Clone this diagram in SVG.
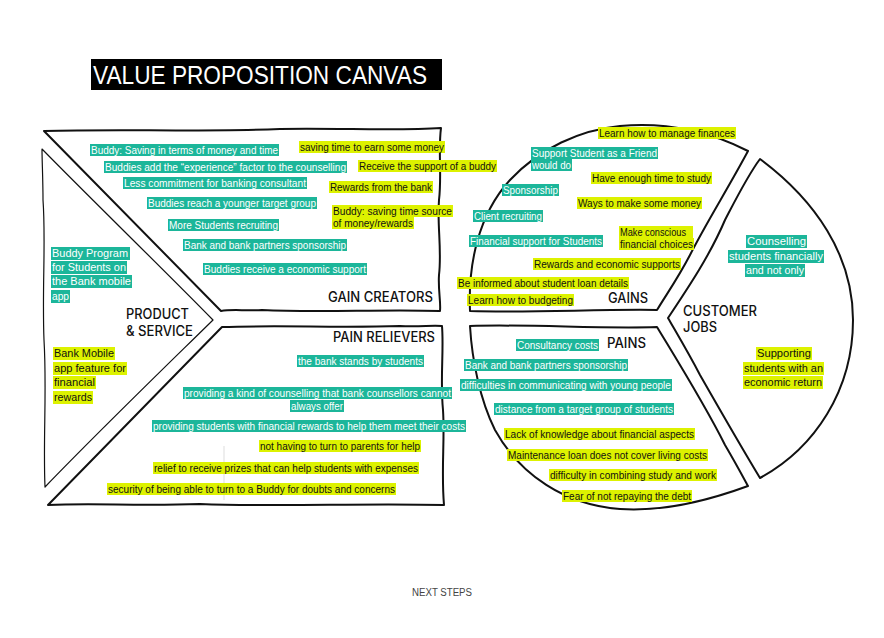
<svg xmlns="http://www.w3.org/2000/svg" width="884" height="638" viewBox="0 0 884 638">
<style>
.bg{fill:#ffffff}
.shape{fill:none;stroke:#111;stroke-width:2;stroke-linejoin:round;stroke-linecap:round}
.thin{fill:none;stroke:#111;stroke-width:1.2;stroke-linejoin:round}
.t{fill:#1cb69a}
.y{fill:#ddf200}
.lt{font-family:"Liberation Sans",Arial,sans-serif;font-size:10px;fill:#ffffff}
.ly{font-family:"Liberation Sans",Arial,sans-serif;font-size:10px;fill:#111}
.big{font-size:11px}
.h{font-family:Inter,"Liberation Sans",Arial,sans-serif;font-size:14px;font-weight:500;fill:#111}
.title{font-family:"Liberation Sans",Arial,sans-serif;font-size:26px;fill:#ffffff}
.next{font-family:"Liberation Sans",Arial,sans-serif;font-size:10px;fill:#444}
</style>
<rect class="bg" x="0" y="0" width="884" height="638"/>

<g id="title">
<rect x="91" y="59" width="351" height="31" fill="#000"/>
<text class="title" x="93" y="84" textLength="334" lengthAdjust="spacingAndGlyphs">VALUE PROPOSITION CANVAS</text>
</g>

<g id="outlines">
<path id="gain-creators-shape" class="shape" d="M44,131 C120,129 200,132 280,129 C340,128 400,131 441,128 C438,150 442,175 439,200 C437,225 442,250 439,275 C438,290 441,302 440,311 C380,309 320,313 262,310 C245,311 232,309 221,311 L44,131 Z"/>
<path id="pain-relievers-shape" class="shape" d="M222,327 C280,325 340,328 400,326 C420,327 432,325 442,326 C444,350 440,380 443,410 C445,440 441,470 444,505 C360,503 280,507 200,504 C140,506 90,503 48,505 L222,327 Z"/>
<path id="product-shape" class="thin" d="M42,149 C90,198 160,266 213,320 C160,372 100,430 45,487 C43,440 47,390 44,340 C42,290 46,240 43,200 C43,180 42,160 42,149 Z"/>
<path id="gains-shape" class="shape" d="M470,311 C468,265 478,215 510,180 C540,148 580,130 620,126 C670,121 715,134 748,151 C730,185 705,225 690,255 C678,278 668,292 657,310 C600,309 530,313 470,311 Z"/>
<path id="pains-shape" class="shape" d="M470,326 C530,324 600,329 657,327 C680,365 705,405 725,445 C735,462 742,475 748,486 C710,500 665,512 620,509 C565,505 520,475 495,430 C480,400 472,360 470,326 Z"/>
<path id="jobs-shape" class="shape" d="M760,159 C815,200 853,255 853,320 C853,390 815,448 760,478 C740,445 720,410 700,375 C688,352 676,332 668,318 C690,285 710,255 725,220 C738,195 748,175 760,159 Z"/>
<line x1="224" y1="446" x2="224" y2="500" stroke="#dddddd" stroke-width="1"/>
</g>

<g id="headings">
<text class="h" x="328" y="302" textLength="105" lengthAdjust="spacingAndGlyphs">GAIN CREATORS</text>
<text class="h" x="333" y="342" textLength="102" lengthAdjust="spacingAndGlyphs">PAIN RELIEVERS</text>
<text class="h" x="126" y="319" textLength="63" lengthAdjust="spacingAndGlyphs">PRODUCT</text>
<text class="h" x="126" y="336" textLength="67" lengthAdjust="spacingAndGlyphs">&amp; SERVICE</text>
<text class="h" x="608" y="303" textLength="40" lengthAdjust="spacingAndGlyphs">GAINS</text>
<text class="h" x="607" y="348" textLength="39" lengthAdjust="spacingAndGlyphs">PAINS</text>
<text class="h" x="683" y="316" textLength="74" lengthAdjust="spacingAndGlyphs">CUSTOMER</text>
<text class="h" x="683" y="332" textLength="34" lengthAdjust="spacingAndGlyphs">JOBS</text>
</g>

<g id="gain-creators">
<rect class="t" x="90" y="144" width="189" height="12"/><text class="lt" x="91" y="153.5" textLength="187" lengthAdjust="spacingAndGlyphs">Buddy: Saving in terms of money and time</text>
<rect class="t" x="104" y="161" width="243" height="12"/><text class="lt" x="105" y="170.5" textLength="241" lengthAdjust="spacingAndGlyphs">Buddies add the “experience” factor to the counselling</text>
<rect class="t" x="123" y="177" width="184" height="12"/><text class="lt" x="124" y="186.5" textLength="182" lengthAdjust="spacingAndGlyphs">Less commitment for banking consultant</text>
<rect class="t" x="147" y="197" width="170" height="12"/><text class="lt" x="148" y="206.5" textLength="168" lengthAdjust="spacingAndGlyphs">Buddies reach a younger target group</text>
<rect class="t" x="168" y="219" width="111" height="12"/><text class="lt" x="169" y="228.5" textLength="109" lengthAdjust="spacingAndGlyphs">More Students recruiting</text>
<rect class="t" x="183" y="239" width="164" height="12"/><text class="lt" x="184" y="248.5" textLength="162" lengthAdjust="spacingAndGlyphs">Bank and bank partners sponsorship</text>
<rect class="t" x="203" y="263" width="164" height="12"/><text class="lt" x="204" y="272.5" textLength="162" lengthAdjust="spacingAndGlyphs">Buddies receive a economic support</text>
<rect class="y" x="299" y="141" width="146" height="12"/><text class="ly" x="300" y="150.5" textLength="144" lengthAdjust="spacingAndGlyphs">saving time to earn some money</text>
<rect class="y" x="358" y="160" width="139" height="12"/><text class="ly" x="359" y="169.5" textLength="137" lengthAdjust="spacingAndGlyphs">Receive the support of a buddy</text>
<rect class="y" x="329" y="181" width="104" height="12"/><text class="ly" x="330" y="190.5" textLength="102" lengthAdjust="spacingAndGlyphs">Rewards from the bank</text>
<rect class="y" x="332" y="205" width="121" height="12"/><text class="ly" x="333" y="214.5" textLength="119" lengthAdjust="spacingAndGlyphs">Buddy: saving time source</text>
<rect class="y" x="332" y="217" width="82" height="12"/><text class="ly" x="333" y="226.5" textLength="80" lengthAdjust="spacingAndGlyphs">of money/rewards</text>
</g>

<g id="product-service">
<rect class="t" x="51" y="247" width="79" height="13"/><text class="lt big" x="52" y="257" textLength="76" lengthAdjust="spacingAndGlyphs">Buddy Program</text>
<rect class="t" x="51" y="261" width="76" height="13"/><text class="lt big" x="52" y="271" textLength="74" lengthAdjust="spacingAndGlyphs">for Students on</text>
<rect class="t" x="51" y="275" width="81" height="13"/><text class="lt big" x="52" y="285" textLength="79" lengthAdjust="spacingAndGlyphs">the Bank mobile</text>
<rect class="t" x="51" y="290" width="19" height="13"/><text class="lt big" x="52" y="300" textLength="17" lengthAdjust="spacingAndGlyphs">app</text>
<rect class="y" x="53" y="347" width="62" height="13"/><text class="ly big" x="54" y="357" textLength="60" lengthAdjust="spacingAndGlyphs">Bank Mobile</text>
<rect class="y" x="53" y="362" width="74" height="13"/><text class="ly big" x="54" y="372" textLength="72" lengthAdjust="spacingAndGlyphs">app feature for</text>
<rect class="y" x="53" y="376" width="43" height="13"/><text class="ly big" x="54" y="386" textLength="41" lengthAdjust="spacingAndGlyphs">financial</text>
<rect class="y" x="53" y="391" width="40" height="13"/><text class="ly big" x="54" y="401" textLength="38" lengthAdjust="spacingAndGlyphs">rewards</text>
</g>

<g id="pain-relievers">
<rect class="t" x="297" y="355" width="127" height="12"/><text class="lt" x="298" y="364.5" textLength="125" lengthAdjust="spacingAndGlyphs">the bank stands by students</text>
<rect class="t" x="183" y="387" width="269" height="12"/><text class="lt" x="184" y="396.5" textLength="267" lengthAdjust="spacingAndGlyphs">providing a kind of counselling that bank counsellors cannot</text>
<rect class="t" x="290" y="400" width="54" height="12"/><text class="lt" x="291" y="409.5" textLength="52" lengthAdjust="spacingAndGlyphs">always offer</text>
<rect class="t" x="152" y="420" width="314" height="12"/><text class="lt" x="153" y="429.5" textLength="312" lengthAdjust="spacingAndGlyphs">providing students with financial rewards to help them meet their costs</text>
<rect class="y" x="259" y="440" width="162" height="12"/><text class="ly" x="260" y="449.5" textLength="160" lengthAdjust="spacingAndGlyphs">not having to turn to parents for help</text>
<rect class="y" x="153" y="462" width="266" height="12"/><text class="ly" x="154" y="471.5" textLength="264" lengthAdjust="spacingAndGlyphs">relief to receive prizes that can help students with expenses</text>
<rect class="y" x="107" y="483" width="289" height="12"/><text class="ly" x="108" y="492.5" textLength="287" lengthAdjust="spacingAndGlyphs">security of being able to turn to a Buddy for doubts and concerns</text>
</g>

<g id="gains">
<rect class="y" x="598" y="127" width="138" height="12"/><text class="ly" x="599" y="136.5" textLength="136" lengthAdjust="spacingAndGlyphs">Learn how to manage finances</text>
<rect class="t" x="531" y="147" width="127" height="12"/><text class="lt" x="532" y="156.5" textLength="125" lengthAdjust="spacingAndGlyphs">Support Student as a Friend</text>
<rect class="t" x="531" y="159" width="41" height="12"/><text class="lt" x="532" y="168.5" textLength="39" lengthAdjust="spacingAndGlyphs">would do</text>
<rect class="y" x="591" y="172" width="121" height="12"/><text class="ly" x="592" y="181.5" textLength="119" lengthAdjust="spacingAndGlyphs">Have enough time to study</text>
<rect class="t" x="502" y="184" width="57" height="12"/><text class="lt" x="503" y="193.5" textLength="55" lengthAdjust="spacingAndGlyphs">Sponsorship</text>
<rect class="y" x="577" y="197" width="125" height="12"/><text class="ly" x="578" y="206.5" textLength="123" lengthAdjust="spacingAndGlyphs">Ways to make some money</text>
<rect class="t" x="473" y="210" width="70" height="12"/><text class="lt" x="474" y="219.5" textLength="68" lengthAdjust="spacingAndGlyphs">Client recruiting</text>
<rect class="y" x="619" y="226" width="74" height="12"/><text class="ly" x="620" y="235.5" textLength="66" lengthAdjust="spacingAndGlyphs">Make conscious</text>
<rect class="y" x="619" y="238" width="75" height="12"/><text class="ly" x="620" y="247.5" textLength="73" lengthAdjust="spacingAndGlyphs">financial choices</text>
<rect class="t" x="469" y="235" width="134" height="12"/><text class="lt" x="470" y="244.5" textLength="132" lengthAdjust="spacingAndGlyphs">Financial support for Students</text>
<rect class="y" x="533" y="258" width="148" height="12"/><text class="ly" x="534" y="267.5" textLength="146" lengthAdjust="spacingAndGlyphs">Rewards and economic supports</text>
<rect class="y" x="457" y="277" width="172" height="12"/><text class="ly" x="458" y="286.5" textLength="170" lengthAdjust="spacingAndGlyphs">Be informed about student loan details</text>
<rect class="y" x="467" y="294" width="107" height="12"/><text class="ly" x="468" y="303.5" textLength="105" lengthAdjust="spacingAndGlyphs">Learn how to budgeting</text>
</g>

<g id="pains">
<rect class="t" x="516" y="339" width="83" height="12"/><text class="lt" x="517" y="348.5" textLength="81" lengthAdjust="spacingAndGlyphs">Consultancy costs</text>
<rect class="t" x="464" y="359" width="164" height="12"/><text class="lt" x="465" y="368.5" textLength="162" lengthAdjust="spacingAndGlyphs">Bank and bank partners sponsorship</text>
<rect class="t" x="460" y="379" width="212" height="12"/><text class="lt" x="461" y="388.5" textLength="210" lengthAdjust="spacingAndGlyphs">difficulties in communicating with young people</text>
<rect class="t" x="494" y="403" width="180" height="12"/><text class="lt" x="495" y="412.5" textLength="178" lengthAdjust="spacingAndGlyphs">distance from a target group of students</text>
<rect class="y" x="504" y="428" width="191" height="12"/><text class="ly" x="505" y="437.5" textLength="189" lengthAdjust="spacingAndGlyphs">Lack of knowledge about financial aspects</text>
<rect class="y" x="507" y="449" width="201" height="12"/><text class="ly" x="508" y="458.5" textLength="199" lengthAdjust="spacingAndGlyphs">Maintenance loan does not cover living costs</text>
<rect class="y" x="549" y="469" width="168" height="12"/><text class="ly" x="550" y="478.5" textLength="166" lengthAdjust="spacingAndGlyphs">difficulty in combining study and work</text>
<rect class="y" x="562" y="490" width="130" height="12"/><text class="ly" x="563" y="499.5" textLength="128" lengthAdjust="spacingAndGlyphs">Fear of not repaying the debt</text>
</g>

<g id="customer-jobs">
<rect class="t" x="746" y="235" width="61" height="13"/><text class="lt big" x="747" y="245" textLength="59" lengthAdjust="spacingAndGlyphs">Counselling</text>
<rect class="t" x="728" y="250" width="96" height="13"/><text class="lt big" x="729" y="260" textLength="94" lengthAdjust="spacingAndGlyphs">students financially</text>
<rect class="t" x="745" y="264" width="60" height="13"/><text class="lt big" x="746" y="274" textLength="58" lengthAdjust="spacingAndGlyphs">and not only</text>
<rect class="y" x="756" y="347" width="56" height="13"/><text class="ly big" x="757" y="357" textLength="54" lengthAdjust="spacingAndGlyphs">Supporting</text>
<rect class="y" x="743" y="362" width="81" height="13"/><text class="ly big" x="744" y="372" textLength="79" lengthAdjust="spacingAndGlyphs">students with an</text>
<rect class="y" x="743" y="376" width="80" height="13"/><text class="ly big" x="744" y="386" textLength="78" lengthAdjust="spacingAndGlyphs">economic return</text>
</g>

<g id="footer">
<text class="next" x="412" y="596" textLength="60" lengthAdjust="spacingAndGlyphs">NEXT STEPS</text>
</g>
</svg>
